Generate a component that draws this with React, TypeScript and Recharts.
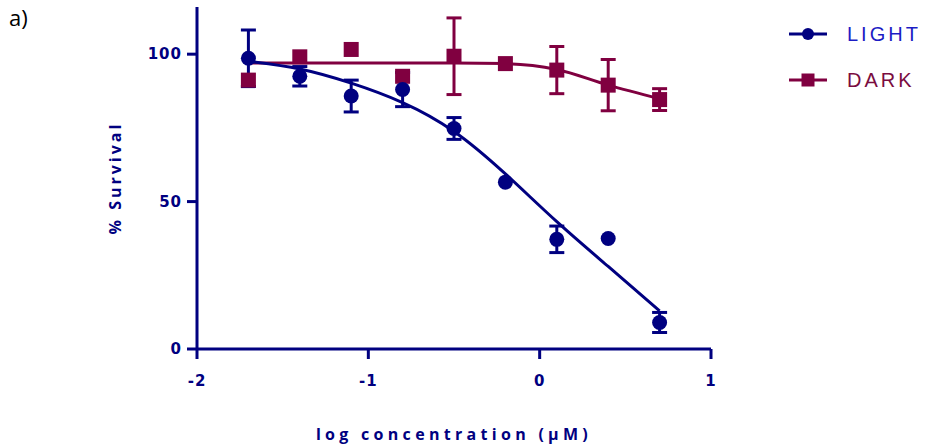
import React from 'react'
import { ComposedChart, Line, Scatter, ErrorBar, XAxis, YAxis } from 'recharts'

// log concentration (uM)
const logConc = [-1.7, -1.4, -1.1, -0.8, -0.5, -0.2, 0.1, 0.4, 0.7]

// measured survival (%) with error
const lightMean = [98.6, 92.5, 85.8, 88.0, 74.8, 56.6, 37.2, 37.5, 9.0]
const lightErr = [9.6, 3.3, 5.4, 5.8, 3.7, 0, 4.5, 0, 3.4]
const darkMean = [91.2, 99.1, 101.6, 92.5, 99.3, 96.8, 94.6, 89.5, 84.6]
const darkErr = [0, 0, 0, 0, 13, 0, 8, 8.7, 3.7]

// fitted curves
const lightFit = [97.6, 95.0, 90.2, 83.6, 73.8, 59.4, 43.2, 28.0, 12.9]
const darkFit = [97, 97, 97, 97, 97, 96.8, 94.8, 89.5, 84.9]

const xTicks = [-2, -1, 0, 1]
const yTicks = [0, 50, 100]

const NAVY = '#000080'
const MAROON = '#800040'

const data = logConc.map((x, i) => ({
  x,
  light: lightMean[i],
  lightErr: lightErr[i],
  lightFit: lightFit[i],
  dark: darkMean[i],
  darkErr: darkErr[i],
  darkFit: darkFit[i],
}))

const legendItems = [
  { name: 'LIGHT', color: NAVY, text: '#1c1cc4', marker: 'circle' },
  { name: 'DARK', color: MAROON, text: '#7a0c40', marker: 'square' },
]

const tickStyle = {
  fill: NAVY,
  fontFamily: '"DejaVu Sans", Verdana, sans-serif',
  fontWeight: 700,
  fontSize: 15,
  letterSpacing: 1,
}

function CircleDot(props: any) {
  return <circle cx={props.cx} cy={props.cy} r={7.5} fill={NAVY} />
}

function SquareDot(props: any) {
  return <rect x={props.cx - 7.5} y={props.cy - 7.5} width={15} height={15} fill={MAROON} />
}

function LegendBox() {
  return (
    <div style={{ position: 'absolute', left: 789, top: 11 }}>
      {legendItems.map((it) => (
        <div key={it.name} style={{ display: 'flex', alignItems: 'center', height: 46 }}>
          <svg width={38} height={20} style={{ marginRight: 20 }}>
            <line x1={0} y1={10} x2={38} y2={10} stroke={it.color} strokeWidth={3} />
            {it.marker === 'circle' ? (
              <circle cx={19} cy={10} r={6} fill={it.color} />
            ) : (
              <rect x={12.5} y={3.5} width={13} height={13} fill={it.color} />
            )}
          </svg>
          <span
            style={{
              fontFamily: '"Liberation Sans", Arial, sans-serif',
              fontSize: 20,
              letterSpacing: 3,
              color: it.text,
            }}
          >
            {it.name}
          </span>
        </div>
      ))}
    </div>
  )
}

function YTitle(props: any) {
  const vb = props.viewBox || {}
  const cy = vb.y + vb.height / 2
  return (
    <text
      x={115}
      y={cy}
      transform={`rotate(-90 115 ${cy})`}
      textAnchor="middle"
      dominantBaseline="central"
      fill={NAVY}
      fontFamily='"Open Sans", sans-serif'
      fontWeight={700}
      fontSize={16}
      letterSpacing={3}
    >
      % Survival
    </text>
  )
}

function XTitle(props: any) {
  const vb = props.viewBox || {}
  const cx = vb.x + vb.width / 2
  return (
    <text
      x={cx}
      y={440}
      textAnchor="middle"
      fill={NAVY}
      fontFamily='"Open Sans", sans-serif'
      fontWeight={700}
      fontSize={16}
      letterSpacing={4.3}
    >
      log concentration (µM)
    </text>
  )
}

export default function App() {
  return (
    <div style={{ position: 'absolute', left: 0, top: 0, width: 926, height: 448, background: '#fff' }}>
      <div
        style={{
          position: 'absolute',
          left: 9,
          top: 2,
          fontFamily: '"Open Sans", sans-serif',
          fontSize: 22,
          color: '#000',
        }}
      >
        a)
      </div>
      <ComposedChart
        width={926}
        height={448}
        data={data}
        margin={{ top: 7, right: 215, bottom: 0, left: 0 }}
      >
        <XAxis
          dataKey="x"
          type="number"
          domain={[-2, 1]}
          ticks={xTicks}
          interval={0}
          allowDataOverflow
          stroke={NAVY}
          strokeWidth={3}
          tickSize={10}
          tickMargin={16}
          tick={tickStyle}
          height={99}
          label={<XTitle />}
        />
        <YAxis
          type="number"
          domain={[0, 116]}
          ticks={yTicks}
          interval={0}
          allowDataOverflow
          stroke={NAVY}
          strokeWidth={3}
          tickSize={10}
          tickMargin={5}
          tick={tickStyle}
          width={197}
          label={<YTitle />}
        />
        <Line
          dataKey="darkFit"
          type="monotone"
          stroke={MAROON}
          strokeWidth={3}
          dot={false}
          activeDot={false}
          isAnimationActive={false}
        />
        <Scatter dataKey="dark" fill={MAROON} shape={SquareDot} isAnimationActive={false}>
          <ErrorBar dataKey="darkErr" direction="y" width={7.5} stroke={MAROON} strokeWidth={3} />
        </Scatter>
        <Line
          dataKey="lightFit"
          type="natural"
          stroke={NAVY}
          strokeWidth={3}
          dot={false}
          activeDot={false}
          isAnimationActive={false}
        />
        <Scatter dataKey="light" fill={NAVY} shape={CircleDot} isAnimationActive={false}>
          <ErrorBar dataKey="lightErr" direction="y" width={7.5} stroke={NAVY} strokeWidth={3} />
        </Scatter>
      </ComposedChart>
      <LegendBox />
    </div>
  )
}
